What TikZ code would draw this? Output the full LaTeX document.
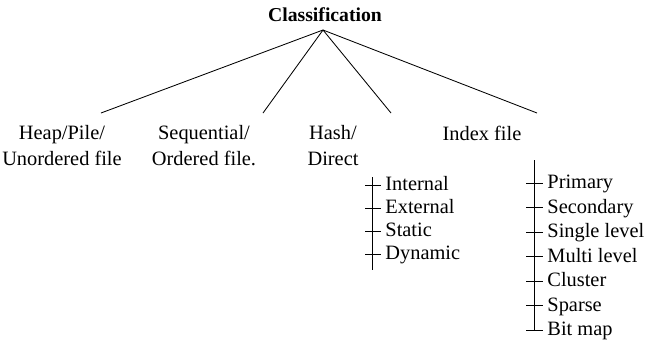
\documentclass[tikz,border=0pt]{standalone}
\usepackage{fontspec}
\setmainfont{Liberation Serif}
\usetikzlibrary{positioning}
\tikzset{
    txt/.style={font=\fontsize{14.5}{18}\selectfont, inner sep=0pt},
    kind/.style={txt, align=center, anchor=base},
    entry/.style={txt, anchor=base west},
}

\begin{document}
\begin{tikzpicture}[x=0.025cm, y=-0.025cm, line width=.6pt]
    \useasboundingbox(0, 0)rectangle(650, 344);
    \node[txt, font=\fontsize{14}{18}\selectfont\bfseries](cls)at(325, 15){Classification};
    \coordinate(apex)at(323, 30);

    % the four kinds of file (base is the last line)
    \node[kind](heap)at(62, 165){Heap/Pile/\\Unordered file};
    \node[kind](seq)at(204, 165){Sequential/\\Ordered file.};
    \node[kind](hash)at(333, 165){Hash/\\Direct};
    \node[kind](index)at(482, 140){Index file};
    \coordinate(heapend)at(101, 113);
    \coordinate(seqend)at(263, 113);
    \coordinate(hashend)at(391, 113);
    \coordinate(indexend)at(537, 113);
    \foreach \e in {heapend, seqend, hashend, indexend}
        \draw(apex)--(\e);

    % hashing schemes
    \coordinate(htop)at(372, 177);
    \coordinate(hbot)at(372, 270);
    \draw(htop)--(hbot);
    \foreach \t [count=\i] in {Internal, External, Static, Dynamic}{
        \node[entry](h\i)at(385, 167.5+23*\i){\t};
        \draw([xshift=-20*0.025cm, yshift=5.5*0.025cm]h\i.base west)--++(16, 0);
    }

    % index types
    \coordinate(itop)at(534, 160);
    \coordinate(ibot)at(534, 330);
    \draw(itop)--(ibot);
    \foreach \t [count=\i] in {Primary, Secondary, Single level, Multi level, Cluster, Sparse, Bit map}{
        \node[entry](x\i)at(547, 164+24.5*\i){\t};
        \draw([xshift=-21*0.025cm, yshift=5.5*0.025cm]x\i.base west)--++(17, 0);
    }
\end{tikzpicture}
\end{document}
